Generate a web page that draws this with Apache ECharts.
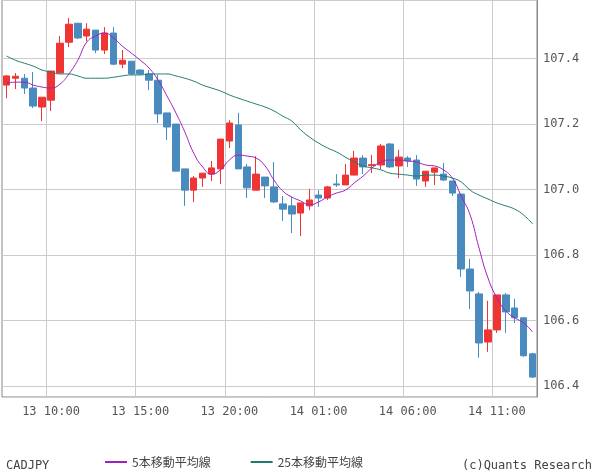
<!DOCTYPE html><html><head><meta charset="utf-8"><script src="https://cdn.jsdelivr.net/npm/echarts@6/dist/echarts.min.js"></script>
<style>html,body{margin:0;padding:0;background:#fff}#c{width:600px;height:475px}</style></head><body><div id="c"></div><script>
const times=[];
(function(){let d=13,h=7,m=30;for(let i=0;i<60;i++){times.push(d+' '+String(h).padStart(2,'0')+':'+String(m).padStart(2,'0'));m+=30;if(m==60){m=0;h++;if(h==24){h=0;d++;}}}})();
// [open, close, low, high]
const ohlc=[
[107.319,107.347,107.279,107.350],[107.340,107.346,107.307,107.356],[107.340,107.310,107.292,107.353],[107.310,107.255,107.249,107.359],
[107.252,107.282,107.209,107.282],[107.273,107.362,107.240,107.362],[107.356,107.447,107.356,107.469],[107.450,107.505,107.435,107.524],
[107.508,107.463,107.460,107.508],[107.469,107.490,107.453,107.508],[107.487,107.426,107.417,107.487],[107.426,107.478,107.414,107.496],
[107.478,107.383,107.380,107.496],[107.383,107.395,107.371,107.426],[107.392,107.353,107.350,107.392],[107.365,107.353,107.350,107.368],
[107.353,107.334,107.304,107.365],[107.334,107.231,107.203,107.350],[107.234,107.191,107.151,107.234],[107.200,107.056,107.056,107.200],
[107.063,106.998,106.950,107.063],[106.998,107.035,106.962,107.041],[107.035,107.050,107.008,107.050],[107.047,107.066,107.026,107.087],
[107.063,107.154,107.017,107.154],[107.148,107.203,107.127,107.212],[107.197,107.063,107.063,107.234],[107.069,107.005,106.974,107.078],
[106.998,107.047,106.998,107.102],[107.038,107.011,106.974,107.038],[107.008,106.962,106.959,107.084],[106.956,106.940,106.904,106.980],
[106.950,106.925,106.867,106.977],[106.928,106.959,106.858,106.959],[106.950,106.968,106.937,107.002],[106.983,106.974,106.947,106.998],
[106.974,107.008,106.968,107.011],[107.017,107.014,107.008,107.047],[107.014,107.044,107.014,107.078],[107.044,107.096,107.044,107.118],
[107.096,107.069,107.047,107.105],[107.073,107.076,107.050,107.105],[107.075,107.133,107.063,107.139],[107.139,107.069,107.066,107.142],
[107.072,107.099,107.035,107.121],[107.096,107.087,107.069,107.102],[107.090,107.032,107.011,107.105],[107.026,107.056,107.008,107.056],
[107.053,107.066,107.014,107.066],[107.047,107.029,107.026,107.081],[107.026,106.989,106.980,107.026],[106.986,106.757,106.733,106.986],
[106.757,106.690,106.635,106.788],[106.681,106.531,106.486,106.687],[106.534,106.571,106.504,106.660],[106.571,106.678,106.562,106.678],
[106.678,106.626,106.562,106.684],[106.638,106.608,106.592,106.666],[106.608,106.492,106.489,106.608],[106.498,106.427,106.424,106.501]];
const ma5=[107.325,107.328,107.328,107.319,107.313,107.310,107.322,107.353,107.395,107.450,107.469,107.478,107.463,107.438,107.417,107.395,107.371,107.334,107.286,107.234,107.176,107.111,107.069,107.047,107.060,107.090,107.105,107.102,107.096,107.072,107.029,106.995,106.977,106.965,106.953,106.962,106.977,106.989,106.998,107.020,107.041,107.066,107.084,107.090,107.090,107.087,107.084,107.075,107.072,107.060,107.035,106.980,106.922,106.821,106.730,106.669,106.629,106.608,106.592,106.565];
const ma25=[107.408,107.395,107.386,107.377,107.365,107.359,107.353,107.353,107.347,107.340,107.340,107.340,107.343,107.347,107.350,107.350,107.353,107.353,107.353,107.347,107.340,107.331,107.319,107.310,107.301,107.289,107.279,107.270,107.261,107.252,107.240,107.224,107.209,107.182,107.160,107.142,107.127,107.115,107.099,107.084,107.072,107.066,107.060,107.050,107.047,107.044,107.041,107.044,107.044,107.041,107.035,107.023,106.998,106.983,106.971,106.959,106.950,106.940,106.922,106.895];
const font='"DejaVu Sans Mono", monospace';
const ch=echarts.init(document.getElementById('c'));
const lab=(i)=>(i-5)%10===0;
ch.setOption({animation:false,
grid:{left:2,right:63,top:0,bottom:78,show:true,borderColor:'#888',borderWidth:1},
xAxis:{type:'category',data:times,boundaryGap:true,axisLine:{show:false},axisTick:{show:false},
 axisLabel:{interval:(i)=>lab(i),color:'#555',fontFamily:font,fontSize:12,margin:9,formatter:v=>v},
 splitLine:{show:true,interval:(i)=>lab(i),lineStyle:{color:'#ccc'}}},
yAxis:{type:'value',position:'right',min:106.366,max:107.579,splitNumber:6,
 axisLine:{show:true,lineStyle:{color:'#888'}},axisTick:{show:false},
 axisLabel:{color:'#555',fontFamily:font,fontSize:12,margin:6,showMinLabel:false,showMaxLabel:false,formatter:v=>v.toFixed(1)},
 splitLine:{lineStyle:{color:'#ccc'}}},
legend:{bottom:2,left:100,itemGap:40,itemWidth:22,itemHeight:2,icon:'rect',textStyle:{color:'#444',fontFamily:'"Noto Sans CJK JP"',fontSize:12},data:['5本移動平均線','25本移動平均線']},
graphic:[{type:'text',left:6,bottom:3,style:{text:'CADJPY',fill:'#444',font:'12px '+font}},
 {type:'text',right:8,bottom:3,style:{text:'(c)Quants Research',fill:'#444',font:'12px '+font}}],
series:[{type:'candlestick',data:ohlc,barWidth:7,itemStyle:{color:'#f03434',color0:'#4a8bbf',borderColor:'#f03434',borderColor0:'#4a8bbf',borderWidth:1}},
 {name:'5本移動平均線',type:'line',data:ma5,smooth:true,symbol:'none',lineStyle:{color:'#a020c0',width:1},itemStyle:{color:'#a020c0'}},
 {name:'25本移動平均線',type:'line',data:ma25,smooth:true,symbol:'none',lineStyle:{color:'#207a70',width:1},itemStyle:{color:'#207a70'}}]});
</script></body></html>
